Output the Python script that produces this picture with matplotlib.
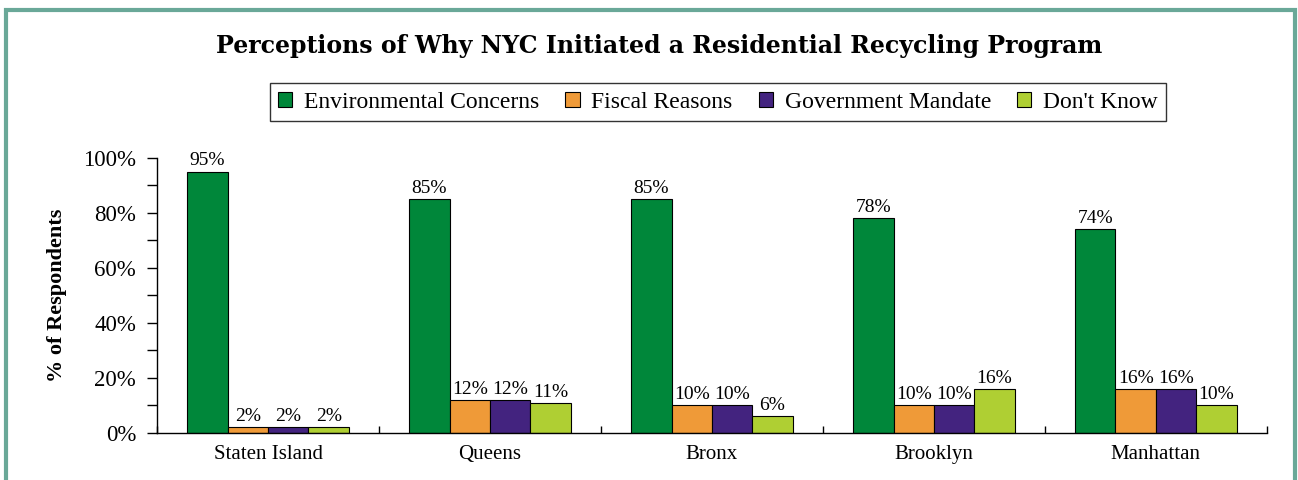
import numpy as np
import matplotlib.pyplot as plt
from matplotlib.patches import Rectangle
from matplotlib.ticker import MultipleLocator, FixedLocator

boroughs = ['Staten Island', 'Queens', 'Bronx', 'Brooklyn', 'Manhattan']
reasons = ['Environmental Concerns', 'Fiscal Reasons', 'Government Mandate', "Don't Know"]
environmental = [95, 85, 85, 78, 74]
fiscal = [2, 12, 10, 10, 16]
mandate = [2, 12, 10, 10, 16]
dont_know = [2, 11, 6, 16, 10]
colors = ['#00873a', '#ef9a38', '#43237f', '#afcf33']

series = [environmental, fiscal, mandate, dont_know]

plt.rcParams['font.family'] = ['Liberation Serif', 'DejaVu Serif']

fig = plt.figure(figsize=(12.98, 4.80), dpi=100)
ax = fig.add_axes([0.121, 0.098, 0.855, 0.573])

# outer frame
fig.patches.append(Rectangle((6 / 1298, -0.05), 1289 / 1298, 1.05 - 10 / 480,
                             transform=fig.transFigure, fill=False,
                             edgecolor='#6aa898', linewidth=3))

x = np.arange(len(boroughs))
w = 0.182
for i, (vals, c, name) in enumerate(zip(series, colors, reasons)):
    pos = x + (i - 1.5) * w
    bars = ax.bar(pos, vals, width=w, color=c, edgecolor='black', linewidth=0.8, label=name)
    for b, v in zip(bars, vals):
        ax.text(b.get_x() + b.get_width() / 2, v + 0.8, f'{v}%', ha='center', va='bottom',
                fontsize=14)

ax.set_xlim(-0.5, 4.5)
ax.set_ylim(0, 100)
ax.spines['top'].set_visible(False)
ax.spines['right'].set_visible(False)
ax.spines['left'].set_linewidth(1)
ax.spines['bottom'].set_linewidth(1)

ax.yaxis.set_major_locator(MultipleLocator(20))
ax.yaxis.set_minor_locator(MultipleLocator(10))
ax.set_yticklabels([f'{int(t)}%' for t in ax.get_yticks()], fontsize=16.5)
ax.tick_params(axis='y', which='both', direction='out', length=7, width=1, pad=8)

ax.set_xticks(x)
ax.set_xticklabels(boroughs, fontsize=15)
ax.xaxis.set_minor_locator(FixedLocator(np.arange(-0.5, 5, 1)))
ax.tick_params(axis='x', which='major', length=0, pad=9)
ax.tick_params(axis='x', which='minor', direction='in', length=5, width=1)

ax.set_ylabel('% of Respondents', fontsize=16, fontweight='bold', labelpad=12)

fig.text(0.508, 0.905, 'Perceptions of Why NYC Initiated a Residential Recycling Program',
         ha='center', va='center', fontsize=17, fontweight='bold', family='DejaVu Serif')

leg = fig.legend(loc='center', bbox_to_anchor=(0.553, 0.7875), ncol=4, fontsize=17,
                 frameon=True, fancybox=False, edgecolor='black', handlelength=0.6,
                 handleheight=0.6, handletextpad=0.5, columnspacing=1.1,
                 borderpad=0.35)
leg.get_frame().set_linewidth(1)

fig.savefig('out.png', dpi=100)
